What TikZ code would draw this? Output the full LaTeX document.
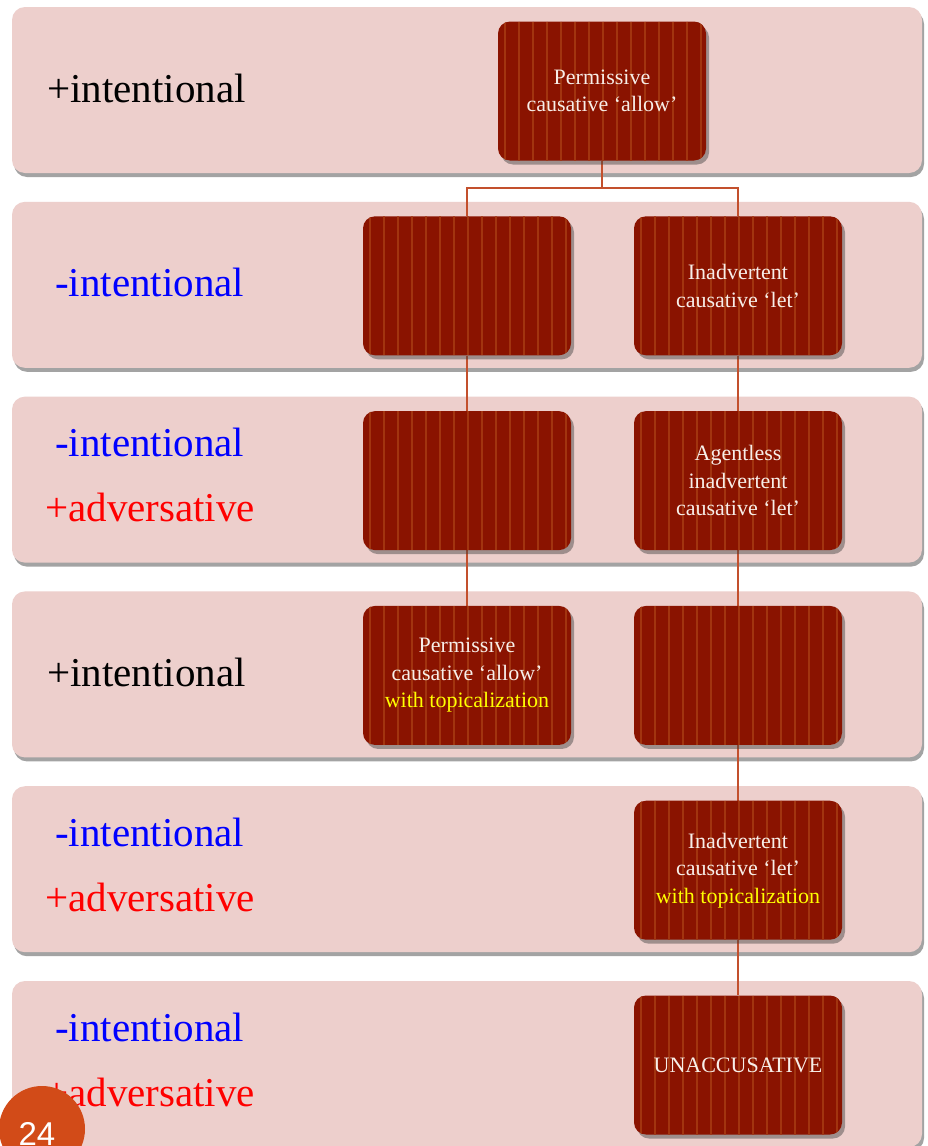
\documentclass[tikz,border=0pt]{standalone}
\usepackage{fontspec}
\setmainfont{Liberation Serif}
\newfontfamily\numfont{Liberation Sans}
\usetikzlibrary{shadows}
\definecolor{bandfill}{HTML}{EDCFCC}
\definecolor{boxred}{HTML}{8A1300}
\definecolor{stripecol}{HTML}{A2340F}
\definecolor{conncol}{HTML}{C3502D}
\definecolor{boxtext}{HTML}{F7EEE8}
\definecolor{topic}{HTML}{FFFF00}
\definecolor{pnum}{HTML}{D24B18}
\definecolor{lblblue}{HTML}{0000FF}
\definecolor{lblred}{HTML}{FF0000}
\pgfdeclarelayer{bands}
\pgfdeclarelayer{lines}
\pgfsetlayers{bands,lines,main}
\tikzset{
  band/.style={fill=bandfill, rounded corners=13pt,
    drop shadow={shadow xshift=2pt, shadow yshift=-4pt, fill=black!65, opacity=0.55}},
  lbl/.style={anchor=base west, inner sep=0pt, font=\fontsize{41}{49}\selectfont},
  stepbox/.style={rounded corners=12pt, minimum width=208pt, minimum height=139pt,
    inner sep=4pt, fill=boxred, text=boxtext, align=center,
    font=\fontsize{22}{27.5}\selectfont,
    drop shadow={shadow xshift=3pt, shadow yshift=-4pt, fill=black!75, opacity=0.45},
    path picture={
      \foreach \k in {0,...,14}{
        \draw[stripecol, line width=1.5pt]
          ([xshift={7pt+\k*14pt}]path picture bounding box.north west) --
          ([xshift={7pt+\k*14pt}]path picture bounding box.south west);
      }
    }},
  conn/.style={draw=conncol, line width=2pt}
}
\begin{document}
\begin{tikzpicture}[x=1pt, y=-1pt]
\useasboundingbox (0,0) rectangle (928,1146);

% background and bands
\begin{pgfonlayer}{bands}
\fill[white] (0,0) rectangle (928,1146);
\foreach \t [count=\i] in {7,201.8,396.6,591.4,786.2,981}{
  \path[band] (12,\t) rectangle (922,\t+166);
}
\end{pgfonlayer}

% labels
\node[lbl, text=black]   (l1)  at (47,102)   {+intentional};
\node[lbl, text=lblblue] (l2)  at (55,296.8) {-intentional};
\node[lbl, text=lblblue] (l3a) at (55,456.6) {-intentional};
\node[lbl, text=lblred]  (l3b) at (45,521.6) {+adversative};
\node[lbl, text=black]   (l4)  at (47,686.4) {+intentional};
\node[lbl, text=lblblue] (l5a) at (55,846.2) {-intentional};
\node[lbl, text=lblred]  (l5b) at (45,911.2) {+adversative};
\node[lbl, text=lblblue] (l6a) at (55,1041)  {-intentional};
\node[lbl, text=lblred]  (l6b) at (45,1106)  {+adversative};

% boxes
\node[stepbox] (t)  at (602,91)     {Permissive\\causative ‘allow’};
\node[stepbox] (L2) at (467,285.8) {};
\node[stepbox] (R2) at (738,285.8) {Inadvertent\\causative ‘let’};
\node[stepbox] (L3) at (467,480.6) {};
\node[stepbox] (R3) at (738,480.6) {Agentless\\inadvertent\\causative ‘let’};
\node[stepbox] (L4) at (467,675.4) {Permissive\\causative ‘allow’\\\textcolor{topic}{with topicalization}};
\node[stepbox] (R4) at (738,675.4) {};
\node[stepbox] (R5) at (738,870.2) {Inadvertent\\causative ‘let’\\\textcolor{topic}{with topicalization}};
\node[stepbox] (R6) at (738,1065)  {UNACCUSATIVE};

% connectors
\coordinate (j) at (602,188);
\begin{pgfonlayer}{lines}
\draw[conn] (t.south) -- (j);
\draw[conn] (j) -| (L2.north);
\draw[conn] (j) -| (R2.north);
\draw[conn] (L2.south) -- (L3.north);
\draw[conn] (L3.south) -- (L4.north);
\draw[conn] (R2.south) -- (R3.north);
\draw[conn] (R3.south) -- (R4.north);
\draw[conn] (R4.south) -- (R5.north);
\draw[conn] (R5.south) -- (R6.north);
\end{pgfonlayer}

% page number
\fill[pnum] (42,1129) circle (43);
\node[anchor=base, inner sep=0pt, text=white, font=\numfont\fontsize{33}{40}\selectfont] (pg) at (37,1145) {24};
\end{tikzpicture}
\end{document}
